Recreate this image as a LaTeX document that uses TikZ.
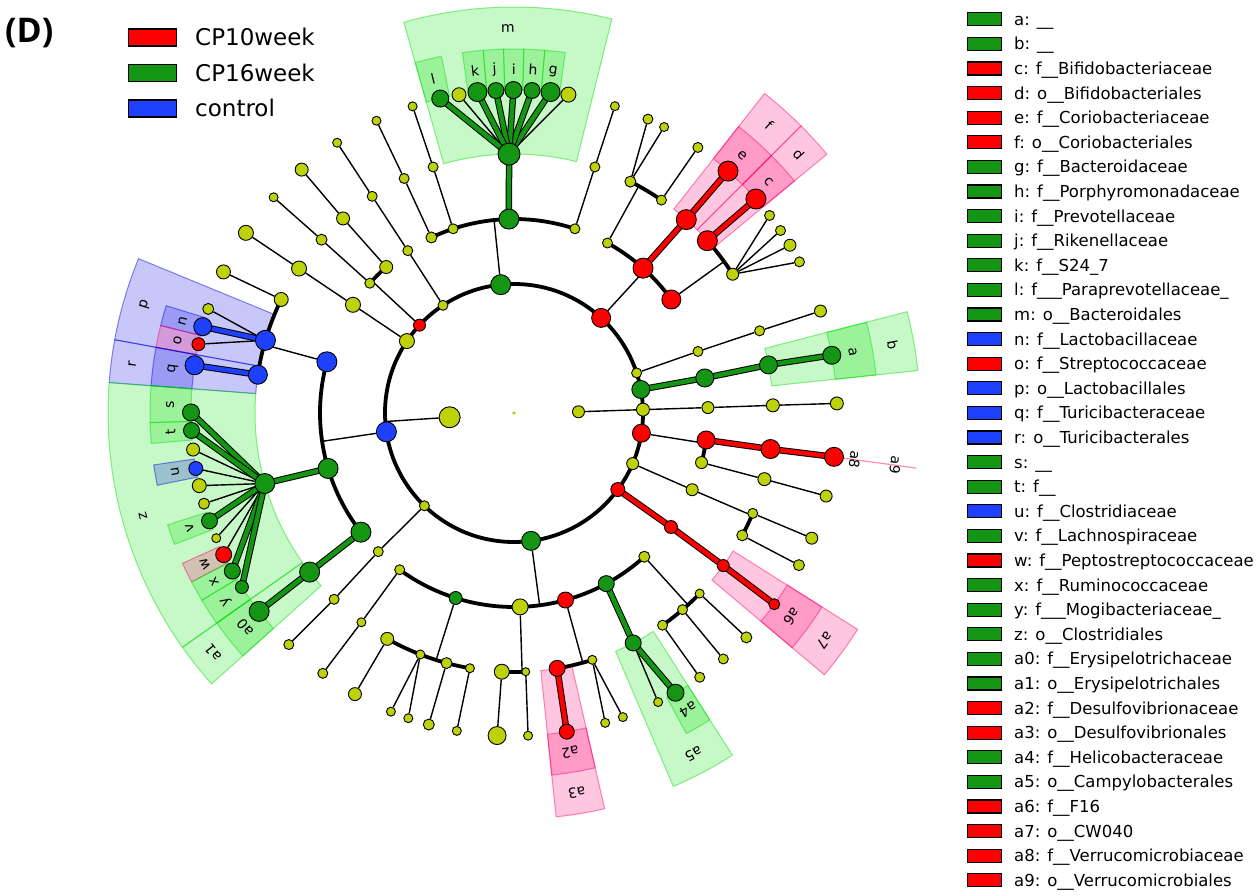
\documentclass[tikz,border=0pt]{standalone}
\usepackage{fontspec}
\setmainfont{DejaVu Sans}
\newfontfamily\titlefont{Open Sans}
\pgfdeclarelayer{bgw}
\pgfdeclarelayer{boxes}
\pgfdeclarelayer{edges}
\pgfsetlayers{bgw,boxes,edges,main}
\definecolor{cgreen}{RGB}{20,150,20}
\definecolor{cred}{RGB}{255,0,0}
\definecolor{cblue}{RGB}{30,65,255}
\definecolor{cyel}{RGB}{190,210,10}
\definecolor{bgreen}{RGB}{0,225,0}
\definecolor{bred}{RGB}{255,0,110}
\definecolor{bblue}{RGB}{0,0,230}
\def\rA{64.5}\def\rB{129}\def\rC{194}\def\rD{259}\def\rE{323}
\def\rF{364}\def\rG{406}\def\rL{344}\def\rM{385}
\tikzset{
  nd/.style={circle,draw=black,line width=0.9pt,inner sep=0pt},
  thinl/.style={draw=black,line width=1.4pt},
  tarc/.style={draw=black,line width=3.8pt},
  gl/.style={draw=black,line width=1pt,double=cgreen,double distance=4.5pt},
  rl/.style={draw=black,line width=1pt,double=cred,double distance=4.5pt},
  bl/.style={draw=black,line width=1pt,double=cblue,double distance=4.5pt},
  lbl/.style={font=\fontsize{14}{14}\selectfont,inner sep=0pt},
  boxst/.style={fill opacity=0.22,draw opacity=0.45,line width=1pt},
  legbox/.style={rectangle,draw=black,line width=1.2pt,inner sep=0pt},
}
\newcommand{\mknd}[5]{\node[nd,fill=#4,minimum size=2*#5pt] (#1) at (#2:#3) {};}
\newcommand{\mkrad}[3]{\coordinate (#1x) at (#2:#3); \draw[thinl] (#1) -- (#1x);}
\newcommand{\mkarc}[4]{\draw[tarc] (#1.center) arc[start angle=#2,end angle=#3,radius=#4pt];}
\newcommand{\mksec}[5]{\filldraw[boxst,fill=#5,draw=#5] (#1:#3) arc[start angle=#1,end angle=#2,radius=#3pt] -- (#2:#4) arc[start angle=#2,end angle=#1,radius=#4pt] -- cycle;}
\newcommand{\mklab}[4]{\node[lbl,rotate=#2-90] (#1) at (#2:#3) {#4};}
\begin{document}
\begin{tikzpicture}[x=1pt,y=1pt]
\useasboundingbox (0,0) rectangle (1260,-896);
\begin{pgfonlayer}{bgw}
\fill[white] (0,0) rectangle (1260,-896);
\end{pgfonlayer}
\begin{scope}[shift={(514,-413)}]
% ---------- nodes ----------
\node[circle,fill=cyel,inner sep=0pt,minimum size=3.6pt] (root) at (0,0) {};
\mknd{ka}{183.8}{\rA}{cyel}{10.5}
\mknd{kb}{1.1}{\rA}{cyel}{6}
% level 2
\mknd{p01}{1.5}{\rB}{cyel}{6.5}
\mknd{p02}{10.5}{\rB}{cgreen}{9}
\mknd{p03}{18.1}{\rB}{cyel}{5}
\mknd{p04}{47.5}{\rB}{cred}{9.5}
\mknd{p05}{95.9}{\rB}{cgreen}{10}
\mknd{p06}{123.4}{\rB}{cyel}{5}
\mknd{p07}{137.1}{\rB}{cred}{6}
\mknd{p08}{146.1}{\rB}{cyel}{7.5}
\mknd{p09}{188.4}{\rB}{cblue}{10}
\mknd{p10}{226}{\rB}{cyel}{5}
\mknd{p11}{277.6}{\rB}{cgreen}{9.5}
\mknd{p12}{323.6}{\rB}{cred}{7}
\mknd{p13}{336.9}{\rB}{cyel}{6}
\mknd{p14}{351}{\rB}{cred}{9}
% level 3
\mknd{c01}{1.6}{\rC}{cyel}{6}
\mknd{c02}{10.4}{\rC}{cgreen}{9}
\mknd{c03}{18.5}{\rC}{cyel}{5}
\mknd{c04}{35.8}{\rC}{cred}{9.5}
\mknd{c05}{48.3}{\rC}{cred}{10}
\mknd{c06}{61.2}{\rC}{cyel}{5}
\mknd{c07}{71.7}{\rC}{cyel}{5}
\mknd{c08}{91.5}{\rC}{cgreen}{10}
\mknd{c09}{108.3}{\rC}{cyel}{5}
\mknd{c10}{115.2}{\rC}{cyel}{5.5}
\mknd{c11}{123.2}{\rC}{cyel}{5}
\mknd{c12}{131.2}{\rC}{cyel}{6.5}
\mknd{c13}{138}{\rC}{cyel}{5}
\mknd{c14}{146.1}{\rC}{cyel}{7.5}
\mknd{c15}{164.7}{\rC}{cblue}{10}
\mknd{c16}{196.6}{\rC}{cgreen}{10}
\mknd{c17}{217.9}{\rC}{cgreen}{10}
\mknd{c18}{225.6}{\rC}{cyel}{5}
\mknd{c19}{233.9}{\rC}{cyel}{5}
\mknd{c20}{252.5}{\rC}{cgreen}{6.5}
\mknd{c21}{271.8}{\rC}{cyel}{8}
\mknd{c22}{285.4}{\rC}{cred}{8}
\mknd{c23}{298.4}{\rC}{cgreen}{8}
\mknd{c24}{312.2}{\rC}{cyel}{5.5}
\mknd{c25}{324}{\rC}{cred}{6.5}
\mknd{c26}{336.7}{\rC}{cyel}{6}
\mknd{c27}{345.2}{\rC}{cyel}{6}
\mknd{c28}{352}{\rC}{cred}{9}
% level 4
\mknd{o01}{1.7}{\rD}{cyel}{6.5}
\mknd{o02}{10.7}{\rD}{cgreen}{9}
\mknd{o03}{18.5}{\rD}{cyel}{5}
\mknd{o04}{32.4}{\rD}{cyel}{6}
\mknd{o05}{41.7}{\rD}{cred}{10}
\mknd{o06}{48.3}{\rD}{cred}{10}
\mknd{o07}{55.3}{\rD}{cyel}{5}
\mknd{o08}{63.3}{\rD}{cyel}{5.5}
\mknd{o09}{71.8}{\rD}{cyel}{5}
\mknd{o10}{91.1}{\rD}{cgreen}{11}
\mknd{o11}{108.2}{\rD}{cyel}{5}
\mknd{o12}{115.1}{\rD}{cyel}{5}
\mknd{o13}{123.2}{\rD}{cyel}{5}
\mknd{o14}{131.3}{\rD}{cyel}{6.5}
\mknd{o15}{138}{\rD}{cyel}{5.5}
\mknd{o16}{146.1}{\rD}{cyel}{7.5}
\mknd{o17}{154}{\rD}{cyel}{7}
\mknd{o18}{163.7}{\rD}{cblue}{10}
\mknd{o19}{171.5}{\rD}{cblue}{9.5}
\mknd{o20}{195.8}{\rD}{cgreen}{10}
\mknd{o21}{217.9}{\rD}{cgreen}{10}
\mknd{o22}{226}{\rD}{cyel}{5}
\mknd{o23}{233.9}{\rD}{cyel}{4.5}
\mknd{o24}{240.7}{\rD}{cyel}{6.5}
\mknd{o25}{248.8}{\rD}{cyel}{4.5}
\mknd{o26}{254.9}{\rD}{cyel}{5.5}
\mknd{o27}{260.2}{\rD}{cyel}{4.5}
\mknd{o28}{267.3}{\rD}{cyel}{7.5}
\mknd{o29}{272.6}{\rD}{cyel}{4}
\mknd{o30}{279.6}{\rD}{cred}{8}
\mknd{o31}{287.6}{\rD}{cyel}{4.5}
\mknd{o32}{297.4}{\rD}{cgreen}{8}
\mknd{o33}{305}{\rD}{cyel}{5}
\mknd{o34}{310.6}{\rD}{cyel}{5}
\mknd{o35}{315.8}{\rD}{cyel}{4.5}
\mknd{o36}{323.9}{\rD}{cred}{6}
\mknd{o37}{331.8}{\rD}{cyel}{5.5}
\mknd{o38}{337.2}{\rD}{cyel}{5}
\mknd{o39}{345.2}{\rD}{cyel}{6.5}
\mknd{o40}{352}{\rD}{cred}{9.5}
% level 5
\mknd{f01}{1.7}{\rE}{cyel}{6.5}
\mknd{f02}{10.3}{\rE}{cgreen}{9}
\mknd{f03}{18.4}{\rE}{cyel}{6}
\mknd{f04}{27.9}{\rE}{cyel}{5}
\mknd{f05}{31.3}{\rE}{cyel}{6}
\mknd{f06}{34.4}{\rE}{cyel}{5}
\mknd{f07}{37.7}{\rE}{cyel}{5}
\mknd{f08}{41.5}{\rE}{cred}{10}
\mknd{f09}{48.5}{\rE}{cred}{10}
\mknd{f10}{55.3}{\rE}{cyel}{5}
\mknd{f11}{62.3}{\rE}{cyel}{4.5}
\mknd{f12}{65.5}{\rE}{cyel}{5}
\mknd{f13}{71.8}{\rE}{cyel}{4.5}
\mknd{f14}{80.3}{\rE}{cyel}{7.5}
\mknd{f15}{83.5}{\rE}{cgreen}{9.5}
\mknd{f16}{86.8}{\rE}{cgreen}{8}
\mknd{f17}{90.1}{\rE}{cgreen}{8.5}
\mknd{f18}{93.2}{\rE}{cgreen}{8}
\mknd{f19}{96.5}{\rE}{cgreen}{9.5}
\mknd{f20}{99.8}{\rE}{cyel}{7}
\mknd{f21}{103.2}{\rE}{cgreen}{8.5}
\mknd{f22}{108.3}{\rE}{cyel}{4.5}
\mknd{f23}{115.2}{\rE}{cyel}{4.5}
\mknd{f24}{123.2}{\rE}{cyel}{4.5}
\mknd{f25}{131.1}{\rE}{cyel}{6.5}
\mknd{f26}{138.1}{\rE}{cyel}{4.5}
\mknd{f27}{146.1}{\rE}{cyel}{7.5}
\mknd{f28}{154.1}{\rE}{cyel}{7}
\mknd{f29}{161.2}{\rE}{cyel}{5.5}
\mknd{f30}{164.5}{\rE}{cblue}{9}
\mknd{f31}{167.7}{\rE}{cred}{6.5}
\mknd{f32}{171.5}{\rE}{cblue}{9.5}
\mknd{f33}{179.9}{\rE}{cgreen}{8.5}
\mknd{f34}{183.1}{\rE}{cgreen}{8}
\mknd{f35}{186.5}{\rE}{cyel}{6.5}
\mknd{f36}{189.9}{\rE}{cblue}{7}
\mknd{f37}{193}{\rE}{cyel}{7}
\mknd{f38}{196.3}{\rE}{cyel}{5.5}
\mknd{f39}{199.5}{\rE}{cgreen}{8}
\mknd{f40}{202.8}{\rE}{cyel}{4.5}
\mknd{f41}{206}{\rE}{cred}{8}
\mknd{f42}{209.3}{\rE}{cgreen}{8}
\mknd{f43}{212.6}{\rE}{cgreen}{6.5}
\mknd{f44}{217.9}{\rE}{cgreen}{10}
\mknd{f45}{225.8}{\rE}{cyel}{5}
\mknd{f46}{233.7}{\rE}{cyel}{5}
\mknd{f47}{240.5}{\rE}{cyel}{6.5}
\mknd{f48}{247.6}{\rE}{cyel}{4.5}
\mknd{f49}{250.9}{\rE}{cyel}{4.5}
\mknd{f50}{254.7}{\rE}{cyel}{5.5}
\mknd{f51}{259.8}{\rE}{cyel}{4.5}
\mknd{f52}{267}{\rE}{cyel}{9}
\mknd{f53}{272.5}{\rE}{cyel}{4.5}
\mknd{f54}{279.4}{\rE}{cred}{7.5}
\mknd{f55}{286.4}{\rE}{cyel}{4.5}
\mknd{f56}{289.7}{\rE}{cyel}{4.5}
\mknd{f57}{296.5}{\rE}{cyel}{4.5}
\mknd{f58}{300}{\rE}{cgreen}{8.5}
\mknd{f59}{305.1}{\rE}{cyel}{5}
\mknd{f60}{310.4}{\rE}{cyel}{5}
\mknd{f61}{316}{\rE}{cyel}{5.5}
\mknd{f62}{323.7}{\rE}{cred}{5.5}
\mknd{f63}{331.9}{\rE}{cyel}{5.5}
\mknd{f64}{337.2}{\rE}{cyel}{6}
\mknd{f65}{345.1}{\rE}{cyel}{6}
\mknd{f66}{352.2}{\rE}{cred}{9.5}
% ---------- highlight boxes ----------
\begin{pgfonlayer}{boxes}
\mksec{6}{14.45}{\rD}{\rG}{bgreen}
\mksec{6}{14.45}{\rE}{\rF}{bgreen}
\mksec{39.6}{45}{\rD}{\rG}{bred}
\mksec{39.6}{45}{\rE}{\rF}{bred}
\mksec{45}{51.9}{\rD}{\rG}{bred}
\mksec{45}{51.9}{\rE}{\rF}{bred}
\mksec{76.05}{105.75}{\rD}{\rG}{bgreen}
\mksec{81.9}{85.15}{\rE}{\rF}{bgreen}
\mksec{85.15}{88.45}{\rE}{\rF}{bgreen}
\mksec{88.45}{91.65}{\rE}{\rF}{bgreen}
\mksec{91.65}{94.85}{\rE}{\rF}{bgreen}
\mksec{94.85}{98.15}{\rE}{\rF}{bgreen}
\mksec{101.5}{105.75}{\rE}{\rF}{bgreen}
\mksec{157.65}{169.6}{\rD}{\rG}{bblue}
\mksec{162.85}{166.1}{\rE}{\rF}{bblue}
\mksec{166.1}{169.6}{\rE}{\rF}{bred}
\mksec{169.6}{175.7}{\rD}{\rG}{bblue}
\mksec{169.6}{175.7}{\rE}{\rF}{bblue}
\mksec{175.7}{215.25}{\rD}{\rG}{bgreen}
\mksec{175.7}{181.5}{\rE}{\rF}{bgreen}
\mksec{181.5}{184.8}{\rE}{\rF}{bgreen}
\mksec{188.2}{191.45}{\rE}{\rF}{bblue}
\mksec{197.9}{201.15}{\rE}{\rF}{bgreen}
\mksec{204.4}{207.65}{\rE}{\rF}{bred}
\mksec{207.65}{210.95}{\rE}{\rF}{bgreen}
\mksec{210.95}{215.25}{\rE}{\rF}{bgreen}
\mksec{215.25}{221.85}{\rD}{\rG}{bgreen}
\mksec{215.25}{221.85}{\rE}{\rF}{bgreen}
\mksec{275.95}{282.9}{\rD}{\rG}{bred}
\mksec{275.95}{282.9}{\rE}{\rF}{bred}
\mksec{293.1}{302.55}{\rD}{\rG}{bgreen}
\mksec{298.25}{302.55}{\rE}{\rF}{bgreen}
\mksec{319.85}{327.8}{\rD}{\rG}{bred}
\mksec{319.85}{327.8}{\rE}{\rF}{bred}
\coordinate (a9s) at (352.2:333);
\coordinate (a9e) at (352.2:\rG);
\draw[bred,draw opacity=0.45,line width=1.2pt] (a9s) -- (a9e);
\end{pgfonlayer}
% ---------- edges ----------
\begin{pgfonlayer}{edges}
\draw[tarc] (root.center) circle[radius=\rB pt];
\mkrad{ka}{183.8}{\rB}
\mkrad{p04}{47.5}{\rC}
\mkrad{p05}{95.9}{\rC}
\mkrad{p07}{137.1}{\rC}
\mkrad{p09}{188.4}{\rC}
\mkrad{p11}{277.6}{\rC}
\mkrad{p14}{351}{\rC}
\mkrad{c04}{35.8}{\rD}
\mkrad{c06}{61.2}{\rD}
\mkrad{c15}{164.7}{\rD}
\mkrad{c20}{252.5}{\rD}
\mkrad{c21}{271.8}{\rD}
\mkrad{c22}{285.4}{\rD}
\mkrad{c24}{312.2}{\rD}
\mkrad{c26}{336.7}{\rD}
\mkarc{c04}{35.8}{61.2}{\rC}
\mkarc{c07}{71.7}{115.2}{\rC}
\mkarc{c12}{131.2}{138}{\rC}
\mkarc{c15}{164.7}{217.9}{\rC}
\mkarc{c19}{233.9}{312.2}{\rC}
\mkarc{c27}{345.2}{352}{\rC}
\mkarc{o04}{32.4}{41.7}{\rD}
\mkarc{o07}{55.3}{63.3}{\rD}
\mkarc{o17}{154}{171.5}{\rD}
\mkarc{o24}{240.7}{260.2}{\rD}
\mkarc{o28}{267.3}{272.6}{\rD}
\mkarc{o30}{279.6}{287.6}{\rD}
\mkarc{o33}{305}{315.8}{\rD}
\mkarc{o37}{331.8}{337.2}{\rD}
\draw[thinl] (kb) -- (p01) -- (c01) -- (o01) -- (f01);
\draw[thinl] (p03) -- (c03) -- (o03) -- (f03);
\draw[thinl] (p06) -- (c11) -- (o13) -- (f24);
\draw[thinl] (p08) -- (c14) -- (o16) -- (f27);
\draw[thinl] (p10) -- (c18) -- (o22) -- (f45);
\draw[thinl] (p13) -- (c26);
\draw[thinl] (c07) -- (o09) -- (f13);
\draw[thinl] (c09) -- (o11) -- (f22);
\draw[thinl] (c10) -- (o12) -- (f23);
\draw[thinl] (c12) -- (o14) -- (f25);
\draw[thinl] (c13) -- (o15) -- (f26);
\draw[thinl] (c19) -- (o23) -- (f46);
\draw[thinl] (c27) -- (o39) -- (f65);
\foreach \a/\b in {o07/f10,o17/f28,o24/f47,o26/f50,o27/f51,o28/f52,o29/f53,o33/f59,o34/f60,o35/f61,o37/f63,o38/f64,
  o04/f04,o04/f05,o04/f06,o04/f07,o08/f11,o08/f12,o25/f48,o25/f49,o31/f55,o31/f56,o10/f14,o10/f20,
  o18/f29,o18/f31,o20/f35,o20/f36,o20/f37,o20/f38,o20/f40,o20/f41,o32/f57}
  \draw[thinl] (\a) -- (\b);
\draw[gl] (p02.center) -- (c02.center) -- (o02.center) -- (f02.center);
\draw[gl] (c08.center) -- (o10.center);
\foreach \b in {f15,f16,f17,f18,f19,f21} \draw[gl] (o10.center) -- (\b.center);
\draw[gl] (c16.center) -- (o20.center);
\foreach \b in {f33,f34,f39,f42,f43} \draw[gl] (o20.center) -- (\b.center);
\draw[gl] (c17.center) -- (o21.center) -- (f44.center);
\draw[gl] (c23.center) -- (o32.center) -- (f58.center);
\draw[rl] (c05.center) -- (o06.center) -- (f09.center);
\draw[rl] (o05.center) -- (f08.center);
\draw[rl] (o30.center) -- (f54.center);
\draw[rl] (p12.center) -- (c25.center) -- (o36.center) -- (f62.center);
\draw[rl] (c28.center) -- (o40.center) -- (f66.center);
\draw[bl] (o18.center) -- (f30.center);
\draw[bl] (o19.center) -- (f32.center);
\end{pgfonlayer}
% ---------- labels ----------
\mklab{la}{10.2}{\rL}{a}
\mklab{lb}{10.2}{\rM}{b}
\mklab{lc}{42.3}{\rL}{c}
\mklab{ld}{42.3}{\rM}{d}
\mklab{le}{48.45}{\rL}{e}
\mklab{lf}{48.45}{\rM}{f}
\mklab{lg}{83.5}{\rL}{g}
\mklab{lh}{86.8}{\rL}{h}
\mklab{li}{90.05}{\rL}{i}
\mklab{lj}{93.25}{\rL}{j}
\mklab{lk}{96.5}{\rL}{k}
\mklab{ll}{103.6}{\rL}{l}
\mklab{lm}{90.9}{\rM}{m}
\mklab{ln}{164.5}{\rL}{n}
\mklab{lo}{167.9}{\rL}{o}
\mklab{lp}{163.6}{\rM}{p}
\mklab{lq}{172.65}{\rL}{q}
\mklab{lr}{172.65}{\rM}{r}
\mklab{ls}{178.6}{\rL}{s}
\mklab{lt}{183.15}{\rL}{t}
\mklab{lu}{189.8}{\rL}{u}
\mklab{lv}{199.5}{\rL}{v}
\mklab{lw}{206}{\rL}{w}
\mklab{lx}{209.3}{\rL}{x}
\mklab{ly}{213.1}{\rL}{y}
\mklab{lz}{195.5}{\rM}{z}
\mklab{la0}{218.55}{\rL}{a0}
\mklab{la1}{218.55}{\rM}{a1}
\mklab{la2}{279.4}{\rL}{a2}
\mklab{la3}{279.4}{\rM}{a3}
\mklab{la4}{300.4}{\rL}{a4}
\mklab{la5}{297.8}{\rM}{a5}
\mklab{la6}{323.8}{\rL}{a6}
\mklab{la7}{323.8}{\rM}{a7}
\mklab{la8}{352.2}{\rL}{a8}
\mklab{la9}{352.2}{\rM}{a9}
\end{scope}
% ---------- title and legends ----------
\node[anchor=base west,inner sep=0pt,font=\titlefont\bfseries\fontsize{34}{34}\selectfont] (title) at (5,-42.5) {(D)};
\foreach \legtxt/\legcol [count=\i from 0] in {CP10week/cred,CP16week/cgreen,control/cblue}{
  \node[legbox,fill=\legcol,minimum width=48pt,minimum height=17pt] (gb\i) at (152.5,{-37.5-35.5*\i}) {};
  \node[anchor=west,inner sep=0pt,text height=16.8pt,text depth=0pt,font=\fontsize{23}{23}\selectfont] (gt\i) at (195,{-37.5-35.5*\i}) {\legtxt};
}
\foreach \legtxt/\legcol [count=\i from 0] in {
{a: \_\_}/cgreen,
{b: \_\_}/cgreen,
{c: f\_\_Bifidobacteriaceae}/cred,
{d: o\_\_Bifidobacteriales}/cred,
{e: f\_\_Coriobacteriaceae}/cred,
{f: o\_\_Coriobacteriales}/cred,
{g: f\_\_Bacteroidaceae}/cgreen,
{h: f\_\_Porphyromonadaceae}/cgreen,
{i: f\_\_Prevotellaceae}/cgreen,
{j: f\_\_Rikenellaceae}/cgreen,
{k: f\_\_S24\_7}/cgreen,
{l: f\_\_\_Paraprevotellaceae\_}/cgreen,
{m: o\_\_Bacteroidales}/cgreen,
{n: f\_\_Lactobacillaceae}/cblue,
{o: f\_\_Streptococcaceae}/cred,
{p: o\_\_Lactobacillales}/cblue,
{q: f\_\_Turicibacteraceae}/cblue,
{r: o\_\_Turicibacterales}/cblue,
{s: \_\_}/cgreen,
{t: f\_\_}/cgreen,
{u: f\_\_Clostridiaceae}/cblue,
{v: f\_\_Lachnospiraceae}/cgreen,
{w: f\_\_Peptostreptococcaceae}/cred,
{x: f\_\_Ruminococcaceae}/cgreen,
{y: f\_\_\_Mogibacteriaceae\_}/cgreen,
{z: o\_\_Clostridiales}/cgreen,
{a0: f\_\_Erysipelotrichaceae}/cgreen,
{a1: o\_\_Erysipelotrichales}/cgreen,
{a2: f\_\_Desulfovibrionaceae}/cred,
{a3: o\_\_Desulfovibrionales}/cred,
{a4: f\_\_Helicobacteraceae}/cgreen,
{a5: o\_\_Campylobacterales}/cgreen,
{a6: f\_\_F16}/cred,
{a7: o\_\_CW040}/cred,
{a8: f\_\_Verrucomicrobiaceae}/cred,
{a9: o\_\_Verrucomicrobiales}/cred}{
  \node[legbox,fill=\legcol,minimum width=34pt,minimum height=13pt] (lb\i) at (984.5,{-19.3-24.6*\i}) {};
  \node[anchor=west,inner sep=0pt,text height=12pt,text depth=0pt,font=\fontsize{16.5}{16.5}\selectfont] (lt\i) at (1014,{-19.3-24.6*\i}) {\legtxt};
}
\end{tikzpicture}
\end{document}
